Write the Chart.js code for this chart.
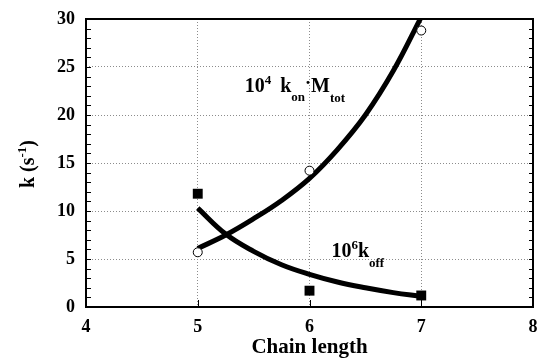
<!DOCTYPE html>
<html>
<head>
<meta charset="utf-8">
<script src="https://cdn.jsdelivr.net/npm/chart.js@4.4.1/dist/chart.umd.min.js"></script>
<style>
  html, body { margin: 0; padding: 0; background: #fff; }
</style>
</head>
<body>
<canvas id="myChart" width="540" height="358"></canvas>
<script>
// measured points
var chainLength = [5, 6, 7];
var konMtot = [5.7, 14.2, 28.8];   // 10^4 kon*Mtot (open circles)
var koff = [11.8, 1.7, 1.2];       // 10^6 koff (filled squares)

// fitted curves
var fitX = [5, 5.25, 5.5, 5.75, 6, 6.25, 6.5, 6.75, 7];
var konFit = [6.1, 7.5, 9.2, 11.1, 13.4, 16.4, 20.0, 24.6, 30.2];
var koffFit = [10.3, 7.6, 5.8, 4.4, 3.4, 2.6, 2.0, 1.5, 1.1];

// axes
var xTicks = [4, 5, 6, 7, 8];
var yTicks = [0, 5, 10, 15, 20, 25, 30];

var serif = "'Liberation Serif', 'Times New Roman', serif";

function pts(xs, ys) {
    return xs.map(function (x, i) { return { x: x, y: ys[i] }; });
}

// draws a run of text pieces with sub/superscripts, returns width
function drawRuns(ctx, x, y, runs, measureOnly) {
    var cx = x;
    runs.forEach(function (r) {
        ctx.font = "bold " + r.size + "px " + serif;
        if (!measureOnly) ctx.fillText(r.t, cx, y + (r.dy || 0));
        cx += ctx.measureText(r.t).width + (r.gap || 0);
    });
    return cx - x;
}

var decor = {
    id: 'decor',
    afterDraw: function (chart) {
        var ctx = chart.ctx, a = chart.chartArea;
        var xs = chart.scales.x, ys = chart.scales.y;
        ctx.save();
        ctx.strokeStyle = '#000';
        ctx.fillStyle = '#000';
        ctx.lineWidth = 1;

        // minor ticks on left and right, pointing in
        ctx.beginPath();
        for (var v = ys.min; v <= ys.max; v++) {
            var py = Math.round(ys.getPixelForValue(v)) + 0.5;
            ctx.moveTo(a.left, py); ctx.lineTo(a.left + 5, py);
            ctx.moveTo(a.right - 4, py); ctx.lineTo(a.right, py);
        }
        xTicks.forEach(function (t) {
            var px = Math.round(xs.getPixelForValue(t)) + 0.5;
            ctx.moveTo(px, a.bottom); ctx.lineTo(px, a.bottom - 7);
        });
        ctx.stroke();

        // frame
        ctx.lineWidth = 2;
        ctx.strokeRect(a.left, a.top, a.right - a.left, a.bottom - a.top);

        ctx.textBaseline = 'alphabetic';
        ctx.textAlign = 'left';

        // curve labels
        var kx = xs.getPixelForValue(5.42), ky = ys.getPixelForValue(22.4);
        drawRuns(ctx, kx, ky, [
            { t: '10', size: 20 },
            { t: '4', size: 13, dy: -8, gap: 9 },
            { t: 'k', size: 20 },
            { t: 'on', size: 13, dy: 9 },
            { t: '\u00b7', size: 18, dy: -3 },
            { t: 'M', size: 20 },
            { t: 'tot', size: 13, dy: 10 }
        ]);
        var fx = xs.getPixelForValue(6.196), fy = ys.getPixelForValue(5.21);
        drawRuns(ctx, fx, fy, [
            { t: '10', size: 20 },
            { t: '6', size: 13, dy: -8 },
            { t: 'k', size: 20 },
            { t: 'off', size: 13, dy: 10 }
        ]);

        // axis titles
        var xt = [{ t: 'Chain length', size: 21 }];
        var w = drawRuns(ctx, 0, 0, xt, true);
        drawRuns(ctx, (a.left + a.right) / 2 - w / 2, 353, xt);

        var yt = [
            { t: 'k (s', size: 20 },
            { t: '-1', size: 13, dy: -8 },
            { t: ')', size: 20 }
        ];
        var wy = drawRuns(ctx, 0, 0, yt, true);
        ctx.translate(34, (a.top + a.bottom) / 2 + 1);
        ctx.rotate(-Math.PI / 2);
        drawRuns(ctx, -wy / 2, 0, yt);
        ctx.restore();
    }
};

var ctx = document.getElementById("myChart").getContext("2d");

new Chart(ctx, {
    type: 'scatter',
    data: {
        datasets: [{
            label: '10^4 kon Mtot',
            data: pts(chainLength, konMtot),
            pointStyle: 'circle',
            pointRadius: 4.5,
            pointBackgroundColor: '#fff',
            pointBorderColor: '#000',
            pointBorderWidth: 1
        }, {
            label: '10^6 koff',
            data: pts(chainLength, koff),
            pointStyle: 'rect',
            pointRadius: 7,
            pointBackgroundColor: '#000',
            pointBorderColor: '#000',
            pointBorderWidth: 0
        }, {
            label: 'kon fit',
            data: pts(fitX, konFit),
            showLine: true,
            borderColor: '#000',
            borderWidth: 5,
            pointRadius: 0,
            tension: 0.4,
            fill: false
        }, {
            label: 'koff fit',
            data: pts(fitX, koffFit),
            showLine: true,
            borderColor: '#000',
            borderWidth: 5,
            pointRadius: 0,
            tension: 0.4,
            fill: false
        }]
    },
    options: {
        responsive: false,
        animation: false,
        layout: { padding: { top: 19, right: 6, left: 0, bottom: 0 } },
        plugins: {
            legend: { display: false },
            tooltip: { enabled: false }
        },
        scales: {
            x: {
                type: 'linear',
                min: 4,
                max: 8,
                afterFit: function (scale) {
                    scale.height = 51;
                    scale.paddingLeft = 0;
                    scale.paddingRight = 0;
                },
                afterBuildTicks: function (scale) {
                    scale.ticks = xTicks.map(function (v) { return { value: v }; });
                },
                grid: { color: '#8c8c8c', lineWidth: 1, drawTicks: false },
                border: { display: false, dash: [1, 2] },
                ticks: {
                    color: '#000',
                    padding: 10,
                    font: { family: serif, size: 18, weight: 'bold' }
                }
            },
            y: {
                min: 0,
                max: 30,
                afterFit: function (scale) {
                    scale.width = 86;
                    scale.paddingTop = 0;
                    scale.paddingBottom = 0;
                },
                afterBuildTicks: function (scale) {
                    scale.ticks = yTicks.map(function (v) { return { value: v }; });
                },
                grid: { color: '#8c8c8c', lineWidth: 1, drawTicks: false },
                border: { display: false, dash: [1, 2] },
                ticks: {
                    color: '#000',
                    padding: 11,
                    font: { family: serif, size: 18, weight: 'bold' }
                }
            }
        }
    },
    plugins: [decor]
});
</script>
</body>
</html>
